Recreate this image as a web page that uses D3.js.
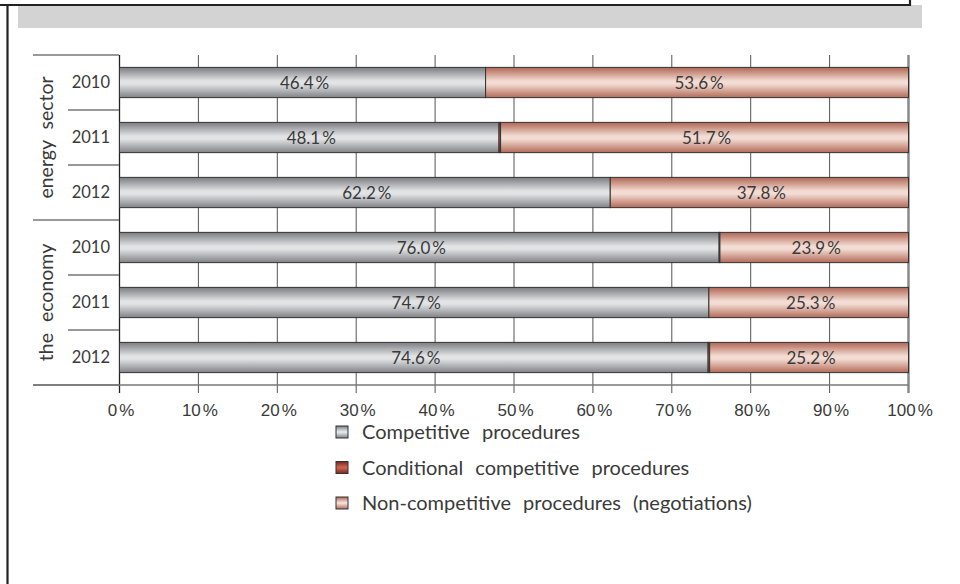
<!DOCTYPE html>
<html>
<head>
<meta charset="utf-8">
<script src="https://cdn.jsdelivr.net/npm/d3@7"></script>
<style>
  html, body { margin: 0; padding: 0; background: #fff; }
  svg { display: block; font-family: Lato, "Open Sans", sans-serif; font-weight: 400; }
</style>
</head>
<body>
<svg id="chart" width="960" height="584"></svg>
<script>
// Procurement procedures by share of value, energy sector vs. the whole economy
const groups = ["energy sector", "the economy"];
const years = ["2010", "2011", "2012"];
const competitive    = [46.4, 48.1, 62.2, 76.0, 74.7, 74.6];
const conditional    = [0.0, 0.2, 0.0, 0.1, 0.0, 0.2];
const nonCompetitive = [53.6, 51.7, 37.8, 23.9, 25.3, 25.2];
const seriesNames = ["Competitive procedures", "Conditional competitive procedures", "Non-competitive procedures (negotiations)"];
const xTicks = [0, 10, 20, 30, 40, 50, 60, 70, 80, 90, 100];

const rows = [];
groups.forEach((g, gi) => years.forEach((y, yi) => {
  const i = gi * years.length + yi;
  rows.push({ id: g + "|" + y, group: g, year: y,
    comp: competitive[i], cond: conditional[i], non: nonCompetitive[i] });
}));

const svg = d3.select("#chart");
const ink = "#3a3a3a";

// page frame pieces
svg.append("rect").attr("x", 18).attr("y", 5).attr("width", 904).attr("height", 23).attr("fill", "#d3d3d3");
svg.append("path").attr("d", "M0,5 H910 V0").attr("fill", "none").attr("stroke", "#222").attr("stroke-width", 2.2);
svg.append("line").attr("x1", 7.5).attr("x2", 7.5).attr("y1", 4).attr("y2", 584).attr("stroke", "#222").attr("stroke-width", 2.2);

const x = d3.scaleLinear().domain([0, 100]).range([119.5, 908.5]);
const y = d3.scaleBand().domain(rows.map(r => r.id)).range([55, 385]).paddingInner(0.45).paddingOuter(0.225);

// gradients
const defs = svg.append("defs");
function grad(id, edgeTop, mid, edgeBot) {
  const g = defs.append("linearGradient").attr("id", id).attr("x1", 0).attr("x2", 0).attr("y1", 0).attr("y2", 1);
  g.append("stop").attr("offset", "0%").attr("stop-color", edgeTop);
  g.append("stop").attr("offset", "45%").attr("stop-color", mid);
  g.append("stop").attr("offset", "55%").attr("stop-color", mid);
  g.append("stop").attr("offset", "100%").attr("stop-color", edgeBot);
}
grad("gComp", "#7b7c80", "#e2e3e5", "#818286");
grad("gCond", "#7a2217", "#c7634f", "#7e2519");
grad("gNon", "#b06654", "#f3dcd3", "#b36b59");
const fills = ["url(#gComp)", "url(#gCond)", "url(#gNon)"];
const keys = ["comp", "cond", "non"];

// vertical grid lines, extending below the axis as ticks
svg.append("g").selectAll("line").data(xTicks).join("line")
  .attr("x1", d => x(d)).attr("x2", d => x(d))
  .attr("y1", 55).attr("y2", 393)
  .attr("stroke", d => d === 100 ? "#8a8a8a" : d === 0 ? "#222" : "#555")
  .attr("stroke-width", d => d === 100 ? 2.5 : d === 0 ? 1.3 : 1);

// horizontal axis line
svg.append("line").attr("x1", 33).attr("x2", x(100)).attr("y1", 385).attr("y2", 385)
  .attr("stroke", "#777").attr("stroke-width", 1.5);

// row separators on the category axis
const bounds = d3.range(rows.length + 1).map(i => 55 + i * y.step());
svg.append("g").selectAll("line").data(bounds).join("line")
  .attr("x1", (d, i) => i % years.length === 0 ? 33 : 68)
  .attr("x2", 119)
  .attr("y1", d => d).attr("y2", d => d)
  .attr("stroke", "#777").attr("stroke-width", 1.5);

// stacked bars
const stack = d3.stack().keys(keys)(rows);
const layers = svg.append("g").selectAll("g").data(stack).join("g")
  .attr("fill", (d, i) => fills[i]);
layers.selectAll("rect").data(d => d.filter(s => s[1] - s[0] > 0)).join("rect")
  .attr("x", d => x(d[0]))
  .attr("width", d => x(d[1]) - x(d[0]))
  .attr("y", d => y(d.data.id))
  .attr("height", y.bandwidth())
  .attr("stroke", "#333").attr("stroke-width", 1);

// percentage text with a small gap before the sign
function pct(sel, v) {
  sel.append("tspan").text(v);
  sel.append("tspan").attr("dx", 2).text("%");
}

// value labels
[0, 2].forEach(li => {
  svg.append("g").selectAll("text").data(stack[li]).join("text")
    .attr("x", d => x((d[0] + d[1]) / 2) + 2)
    .attr("y", d => y(d.data.id) + y.bandwidth() / 2)
    .attr("dy", "0.36em")
    .attr("text-anchor", "middle")
    .attr("font-size", 17).attr("fill", ink)
    .each(function (d) { pct(d3.select(this), (d[1] - d[0]).toFixed(1)); });
});

// year labels
svg.append("g").selectAll("text").data(rows).join("text")
  .attr("x", 110).attr("y", d => y(d.id) + y.bandwidth() / 2)
  .attr("dy", "0.36em").attr("text-anchor", "end")
  .attr("font-size", 16.5).attr("fill", ink)
  .text(d => d.year);

// group labels
svg.append("g").selectAll("text").data(groups).join("text")
  .attr("transform", (d, i) => {
    const cy = 55 + (i + 0.5) * years.length * y.step();
    return `translate(46,${cy}) rotate(-90)`;
  })
  .attr("dy", "0.36em").attr("text-anchor", "middle")
  .attr("font-size", 19.5).attr("fill", ink).attr("word-spacing", 6)
  .text(d => d);

// x axis labels
const xAxis = d3.axisBottom(x).tickValues(xTicks).tickSize(0).tickPadding(0).tickFormat(d => d);
const xg = svg.append("g").attr("transform", "translate(0,404)").call(xAxis);
xg.select(".domain").remove();
xg.selectAll("text").text(null)
  .attr("font-size", 17).attr("fill", ink).attr("font-family", null).attr("dy", "0.71em")
  .attr("dx", 1)
  .each(function (d) { pct(d3.select(this), d); });

// legend
const lg = svg.append("g").selectAll("g").data(seriesNames).join("g")
  .attr("transform", (d, i) => `translate(336,${432 + i * 35.5})`);
lg.append("rect").attr("x", 0).attr("y", -6).attr("width", 12).attr("height", 12)
  .attr("fill", (d, i) => fills[i]).attr("stroke", "#333").attr("stroke-width", 1);
lg.append("text").attr("x", 26).attr("y", 0).attr("dy", "0.36em")
  .attr("font-size", 20).attr("fill", ink).attr("word-spacing", 7)
  .text(d => d);
</script>
</body>
</html>
